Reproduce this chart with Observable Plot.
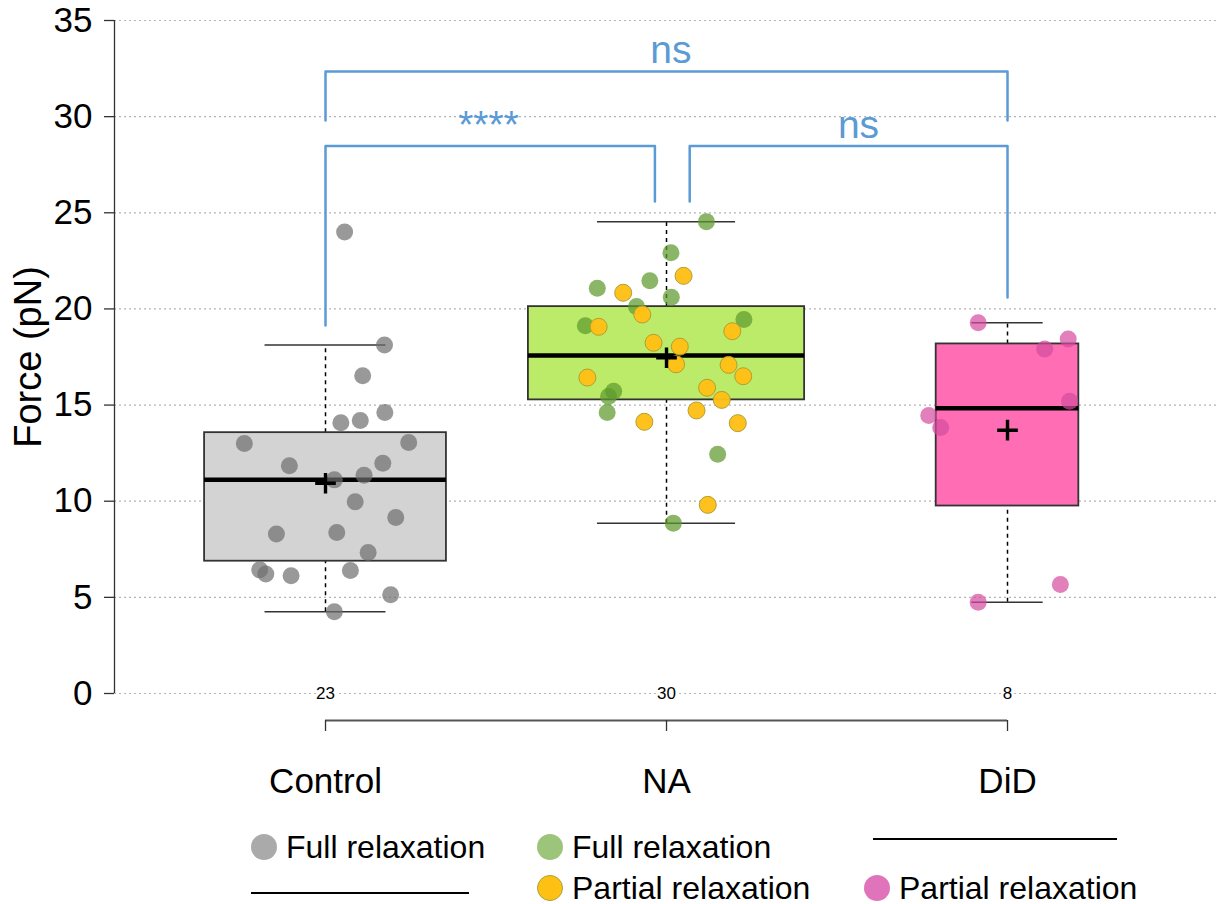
<!DOCTYPE html>
<html>
<head>
<meta charset="utf-8">
<script src="https://cdn.jsdelivr.net/npm/d3@7"></script>
<script src="https://cdn.jsdelivr.net/npm/@observablehq/plot@0.6"></script>
<style>
  html, body { margin: 0; padding: 0; background: #fff; }
  #wrap { position: relative; width: 1217px; height: 904px; font-family: 'Liberation Sans', Arial, Helvetica, sans-serif; }
  #chart svg { display: block; }
  .lg { position: absolute; font-size: 32px; color: #000; line-height: 1; white-space: nowrap; display: flex; align-items: center; }
  .dot { display: inline-block; width: 26px; height: 26px; border-radius: 50%; box-sizing: border-box; margin-right: 9px; }
  .bar { position: absolute; height: 2px; background: #000; }
</style>
</head>
<body>
<div id="wrap">
  <div id="chart"></div>
</div>
<script>
// ---------- data ----------
const groups = ["Control", "NA", "DiD"];
const groupPos = [1, 2, 3];
const boxFill = ["#d3d3d3", "#bbeb68", "#ff6eb4"];
const yTicks = [0, 5, 10, 15, 20, 25, 30, 35];

const controlForce  = [24.0, 18.13, 16.52, 14.61, 14.08, 14.20, 13.0, 13.05, 11.84, 11.98, 11.11, 11.35, 9.97, 9.15, 8.30, 8.37, 7.33, 6.43, 6.22, 6.12, 6.40, 5.13, 4.25];
const controlJitter = [0.056, 0.173, 0.109, 0.174, 0.045, 0.102, -0.238, 0.244, -0.106, 0.168, 0.026, 0.113, 0.087, 0.206, -0.144, 0.033, 0.125, -0.193, -0.175, -0.101, 0.073, 0.191, 0.026];

const naFullForce  = [24.54, 22.92, 21.46, 21.08, 20.61, 20.12, 19.12, 19.45, 15.72, 15.44, 14.61, 12.44, 8.86];
const naFullJitter = [0.117, 0.013, -0.049, -0.203, 0.014, -0.088, -0.238, 0.227, -0.155, -0.170, -0.174, 0.150, 0.020];

const naPartialForce  = [21.72, 20.84, 19.71, 19.07, 18.84, 18.24, 18.04, 17.12, 17.09, 16.43, 16.50, 15.90, 15.27, 14.72, 14.13, 14.06, 9.81];
const naPartialJitter = [0.050, -0.127, -0.071, -0.199, 0.193, -0.038, 0.039, 0.028, 0.182, -0.232, 0.225, 0.119, 0.162, 0.088, -0.065, 0.209, 0.121];

const didForce  = [19.28, 18.44, 17.92, 15.20, 14.46, 13.83, 5.67, 4.75];
const didJitter = [-0.086, 0.178, 0.109, 0.182, -0.231, -0.196, 0.155, -0.086];

// significance brackets
const bracketX1       = [1, 1, 2.068];
const bracketX2       = [3, 1.966, 3];
const bracketLevel    = [32.35, 28.47, 28.47];
const bracketLeftEnd  = [29.80, 19.14, 25.59];
const bracketRightEnd = [29.80, 25.59, 20.59];
const bracketLabel    = ["ns", "****", "ns"];
const bracketLabelX   = [2.013, 1.478, 2.563];

// ---------- derived tables ----------
const pointColor = {
  control: {fill: "#6e6e6e", opacity: 0.7, stroke: "none"},
  full:    {fill: "#5e9a2c", opacity: 0.72, stroke: "none"},
  partial: {fill: "#ffbf16", opacity: 0.97, stroke: "#b0a030"},
  did:     {fill: "#d44a9e", opacity: 0.7, stroke: "none"}
};
function mk(force, jitter, gi, kind) {
  return force.map((f, i) => ({group: groups[gi], x: groupPos[gi] + jitter[i], force: f, kind}));
}
const ptsControl = mk(controlForce, controlJitter, 0, "control");
const ptsFull = mk(naFullForce, naFullJitter, 1, "full");
const ptsPartial = mk(naPartialForce, naPartialJitter, 1, "partial");
const ptsDid = mk(didForce, didJitter, 2, "did");

function fivenum(v) {
  const s = v.slice().sort((a, b) => a - b), n = s.length;
  const n4 = Math.floor((n + 3) / 2) / 2;
  return [1, n4, (n + 1) / 2, n + 1 - n4, n].map(d => 0.5 * (s[Math.floor(d) - 1] + s[Math.ceil(d) - 1]));
}
const groupValues = [controlForce, naFullForce.concat(naPartialForce), didForce];
const maxN = d3.max(groupValues, v => v.length);
const boxes = groupValues.map((v, i) => {
  const [mn, q1, med, q3, mx] = fivenum(v);
  const iqr = q3 - q1;
  const lo = d3.min(v.filter(d => d >= q1 - 1.5 * iqr));
  const hi = d3.max(v.filter(d => d <= q3 + 1.5 * iqr));
  const hw = 0.405 * Math.sqrt(v.length / maxN);
  return {group: groups[i], pos: groupPos[i], fill: boxFill[i], n: v.length, q1, med, q3, lo, hi, mean: d3.mean(v), hw};
});

const bracketPts = [];
bracketX1.forEach((x1, i) => {
  bracketPts.push({b: i, x: x1, y: bracketLeftEnd[i]});
  bracketPts.push({b: i, x: x1, y: bracketLevel[i]});
  bracketPts.push({b: i, x: bracketX2[i], y: bracketLevel[i]});
  bracketPts.push({b: i, x: bracketX2[i], y: bracketRightEnd[i]});
});
const bracketText = bracketLabel.map((t, i) => ({t, x: bracketLabelX[i], y: bracketLevel[i]}));

const xDomain = [0.3812, 3.6158];
const blue = "#5b9bd5";

function dots(data, kind) {
  const c = pointColor[kind];
  return Plot.dot(data, {x: "x", y: "force", r: 8.5, fill: c.fill, fillOpacity: c.opacity, stroke: c.stroke, strokeWidth: 1});
}

const chart = Plot.plot({
  width: 1217,
  height: 810,
  marginLeft: 114,
  marginRight: 0,
  marginTop: 20,
  marginBottom: 117,
  x: {type: "linear", domain: xDomain, axis: null},
  y: {domain: [0, 35], axis: null},
  style: {fontFamily: "'Liberation Sans', Arial, Helvetica, sans-serif", background: "white", color: "black", overflow: "visible"},
  marks: [
    Plot.gridY(yTicks, {stroke: "#b4b4b4", strokeOpacity: 1, strokeDasharray: "2,3", strokeWidth: 1.2}),
    Plot.ruleX([xDomain[0]], {y1: 0, y2: 35, stroke: "#333", strokeWidth: 1.3}),
    Plot.axisY(yTicks, {tickSize: 10, tickPadding: 12, fontSize: 35, label: null, stroke: "#333", strokeWidth: 1.3}),
    Plot.text(["Force (pN)"], {frameAnchor: "left", text: d => d, rotate: -90, textAnchor: "middle", dx: -86, fontSize: 38}),
    // x axis bracket
    Plot.ruleY([0], {x1: groupPos[0], x2: groupPos[groupPos.length - 1], dy: 27, stroke: "#555", strokeWidth: 2}),
    Plot.axisX(groupPos, {tickFormat: d => groups[groupPos.indexOf(d)], tickSize: 11, tickPadding: 37, fontSize: 35, dy: 27, label: null, stroke: "#333", strokeWidth: 1.3}),
    // whiskers
    Plot.ruleX(boxes, {x: "pos", y1: "q3", y2: "hi", stroke: "#000", strokeWidth: 1.5, strokeDasharray: "4,4"}),
    Plot.ruleX(boxes, {x: "pos", y1: "lo", y2: "q1", stroke: "#000", strokeWidth: 1.5, strokeDasharray: "4,4"}),
    Plot.ruleY(boxes, {y: "hi", x1: d => d.pos - d.hw / 2, x2: d => d.pos + d.hw / 2, stroke: "#333", strokeWidth: 1.5}),
    Plot.ruleY(boxes, {y: "lo", x1: d => d.pos - d.hw / 2, x2: d => d.pos + d.hw / 2, stroke: "#333", strokeWidth: 1.5}),
    // boxes
    Plot.rect(boxes, {x1: d => d.pos - d.hw, x2: d => d.pos + d.hw, y1: "q1", y2: "q3", fill: "fill", stroke: "#333", strokeWidth: 1.8}),
    Plot.ruleY(boxes, {y: "med", x1: d => d.pos - d.hw, x2: d => d.pos + d.hw, stroke: "#000", strokeWidth: 4.5}),
    // counts
    Plot.text(boxes, {x: "pos", y: 0, text: d => String(d.n), fontSize: 17, fill: "#000", stroke: "white", strokeWidth: 5, paintOrder: "stroke"}),
    // points
    dots(ptsControl, "control"),
    dots(ptsFull, "full"),
    dots(ptsPartial, "partial"),
    dots(ptsDid, "did"),
    // means
    Plot.dot(boxes, {x: "pos", y: "mean", symbol: "plus", r: 6.7, stroke: "#000", strokeWidth: 3.4}),
    // significance brackets
    Plot.line(bracketPts, {x: "x", y: "y", z: "b", stroke: blue, strokeWidth: 2.5, curve: "linear"}),
    Plot.text(bracketText, {x: "x", y: "y", text: "t", dy: -8, lineAnchor: "bottom", fontSize: 39, fill: blue})
  ]
});
document.getElementById("chart").appendChild(chart);

// ---------- legend (HTML below the plot area) ----------
const legendItems = [
  {type: "dot", label: "Full relaxation", fill: "#aaaaaa", border: "none", left: 251, top: 847},
  {type: "dot", label: "Full relaxation", fill: "#9cc47a", border: "none", left: 537, top: 847},
  {type: "bar", left: 873, width: 244, top: 839},
  {type: "bar", left: 251, width: 218, top: 893},
  {type: "dot", label: "Partial relaxation", fill: "#ffc014", border: "1.5px solid #a6a23c", left: 537, top: 888},
  {type: "dot", label: "Partial relaxation", fill: "#df74bb", border: "none", left: 864, top: 888}
];
const wrap = document.getElementById("wrap");
legendItems.forEach(it => {
  if (it.type === "bar") {
    const b = document.createElement("div");
    b.className = "bar";
    b.style.left = it.left + "px";
    b.style.top = (it.top - 1) + "px";
    b.style.width = it.width + "px";
    wrap.appendChild(b);
  } else {
    const d = document.createElement("div");
    d.className = "lg";
    d.style.left = it.left + "px";
    d.style.top = (it.top - 16) + "px";
    d.style.height = "32px";
    const c = document.createElement("span");
    c.className = "dot";
    c.style.background = it.fill;
    c.style.border = it.border;
    d.appendChild(c);
    const t = document.createElement("span");
    t.textContent = it.label;
    d.appendChild(t);
    wrap.appendChild(d);
  }
});
</script>
</body>
</html>
